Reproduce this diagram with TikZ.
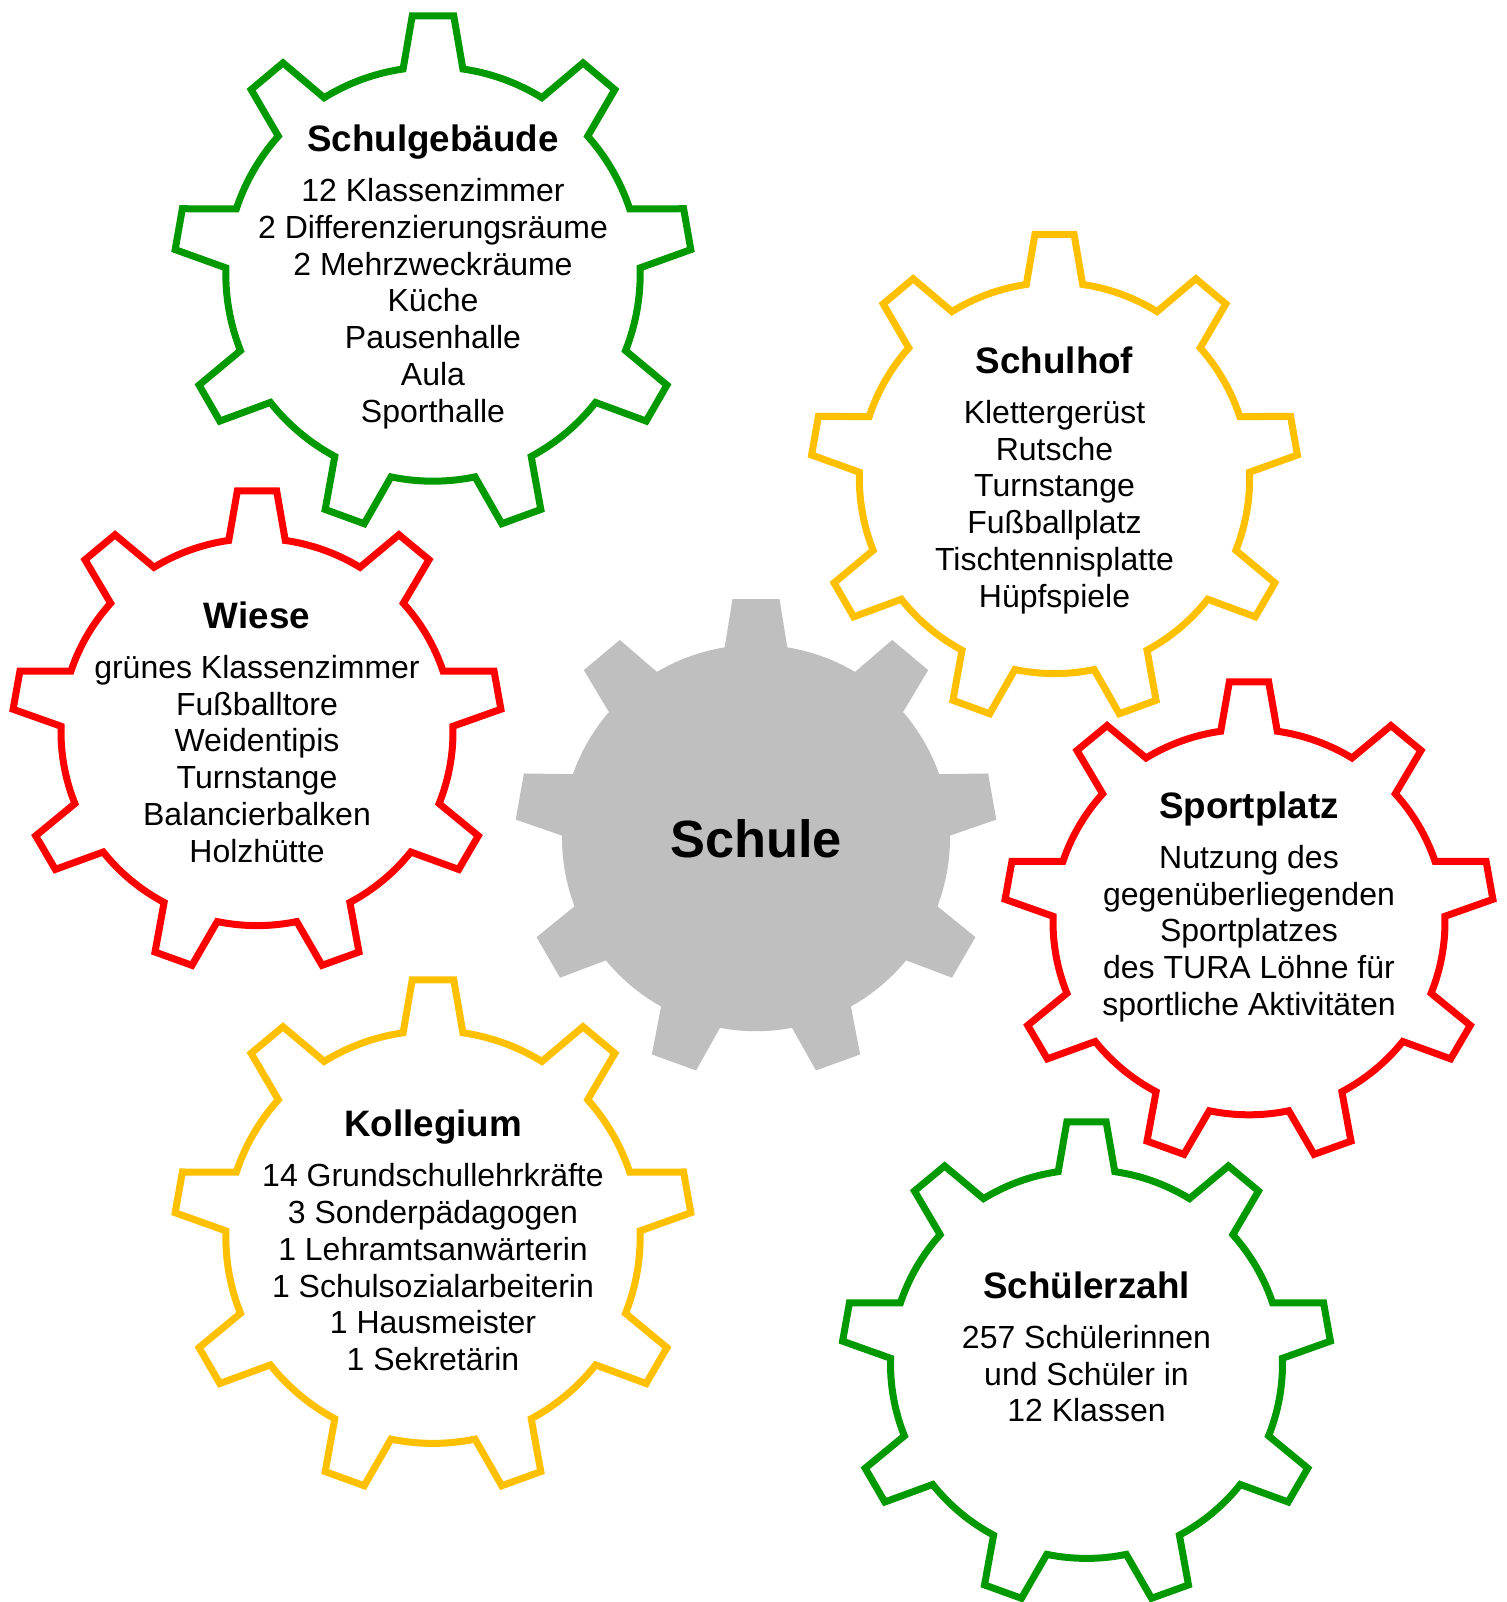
\documentclass[tikz,border=0pt]{standalone}
\usepackage{fontspec}
\setmainfont{Liberation Sans}
\usepackage{tikz}
\definecolor{gearGreen}{RGB}{0,153,0}
\definecolor{gearYellow}{RGB}{255,192,0}
\definecolor{gearRed}{RGB}{255,0,0}
\definecolor{gearGray}{RGB}{191,191,191}
\newcommand{\gearInner}{0.8}
\newcommand{\toothTip}{4.6}
\newcommand{\toothBase}{8.3}
\newcommand{\titleGap}{50}
\newcommand{\lineGap}{36.8}
\tikzstyle{gearLine}=[draw, line width=3.5pt, line join=miter]
\tikzstyle{gearTitle}=[anchor=base, inner sep=0pt, font=\bfseries\fontsize{18.4}{21}\selectfont]
\tikzstyle{gearItem}=[anchor=base, inner sep=0pt, font=\fontsize{16}{18.5}\selectfont]
\tikzstyle{hubLabel}=[anchor=base, inner sep=0pt, font=\bfseries\fontsize{26.2}{30}\selectfont]
\newcommand\gearOutline{}
\def\gearOutline(#1,#2)#3#4#5{%
  \begin{scope}[shift={(#1,#2)}, xscale=#3, yscale=#4]
    \path[#5] ({90-\toothBase}:\gearInner)
      \foreach \a in {90,130,...,410} {
        -- ({\a-\toothTip}:1) -- ({\a+\toothTip}:1) -- ({\a+\toothBase}:\gearInner)
        arc[start angle=\a+\toothBase, end angle=\a+40-\toothBase, radius=\gearInner]
      } -- cycle;
  \end{scope}
}
\newcommand\gearText{}
\def\gearText(#1,#2)#3#4#5{%
  \node[gearTitle] (#3) at (#1,#2) {#4};
  \foreach \entry [count=\i] in {#5}
    \node[gearItem] (#3-\i) at (#1,{#2-\titleGap-(\i-1)*\lineGap}) {\entry};
}

\begin{document}
\begin{tikzpicture}[x=0.5pt, y=0.5pt]
  \useasboundingbox (0,0) rectangle (1507,-1602);
  % hub
  \begin{scope}
    \def\toothTip{5.6}\def\toothBase{9.3}\def\gearInner{0.805}
    \gearOutline(756,-838){241}{240}{fill=gearGray}
  \end{scope}
  \node[hubLabel] (schule) at (756,-857.3) {Schule};
  % outer gears
  \gearOutline(433,-274){259}{259}{gearLine, draw=gearGreen}
  \gearOutline(1054.5,-478){244}{244.5}{gearLine, draw=gearYellow}
  \gearOutline(257,-732){245}{242}{gearLine, draw=gearRed}
  \gearOutline(1249,-922){245}{241}{gearLine, draw=gearRed}
  \gearOutline(433,-1237){259}{258}{gearLine, draw=gearYellow}
  \gearOutline(1086.5,-1364){245}{243}{gearLine, draw=gearGreen}
  % texts
  \gearText(433,-151.5){gebaeude}{Schulgebäude}{12 Klassenzimmer, 2 Differenzierungsräume, 2 Mehrzweckräume, Küche, Pausenhalle, Aula, Sporthalle}
  \gearText(1054.5,-373.3){hof}{Schulhof}{Klettergerüst, Rutsche, Turnstange, Fußballplatz, Tischtennisplatte, Hüpfspiele}
  \gearText(257,-628.3){wiese}{Wiese}{grünes Klassenzimmer, Fußballtore, Weidentipis, Turnstange, Balancierbalken, Holzhütte}
  \gearText(1249,-818.3){sportplatz}{Sportplatz}{Nutzung des, gegenüberliegenden, Sportplatzes, des TURA Löhne für, sportliche Aktivitäten}
  \gearText(433,-1136.7){kollegium}{Kollegium}{14 Grundschullehrkräfte, 3 Sonderpädagogen, 1 Lehramtsanwärterin, 1 Schulsozialarbeiterin, 1 Hausmeister, 1 Sekretärin}
  \gearText(1086.5,-1298.3){zahl}{Schülerzahl}{257 Schülerinnen, und Schüler in, 12 Klassen}
\end{tikzpicture}
\end{document}
